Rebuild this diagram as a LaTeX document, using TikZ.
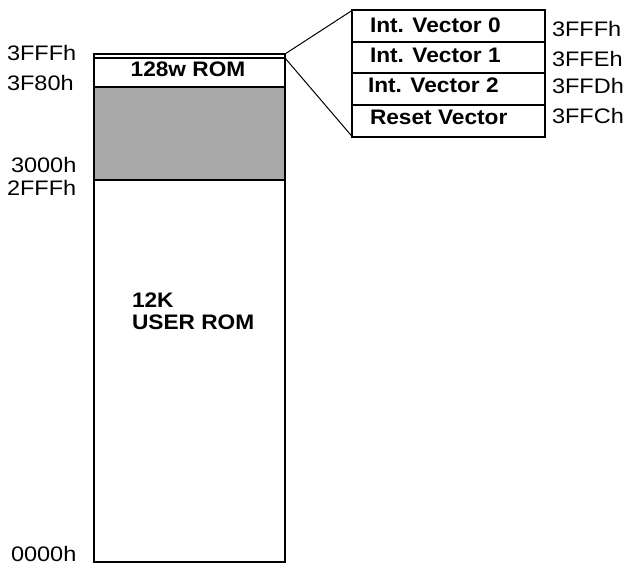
\documentclass[tikz,border=0pt]{standalone}
\usepackage{fontspec}
\setmainfont{Liberation Sans}[FakeStretch=1.08]
\newfontfamily\addrfont{Liberation Sans}[FakeStretch=1.12]
\definecolor{resgray}{RGB}{169,169,169}
\begin{document}
\begin{tikzpicture}[x=1pt,y=-1pt,
  every node/.style={inner sep=0pt,outer sep=0pt},
  seg/.style={draw,line width=2pt,rectangle,minimum width=191pt},
  vrow/.style={draw,line width=2pt,rectangle,minimum width=192.4pt,minimum height=31.6pt},
  addr/.style={anchor=base west,font=\addrfont\fontsize{21}{24}\selectfont},
  lbl/.style={anchor=base west,font=\fontsize{21}{24}\selectfont\bfseries},
  zoomline/.style={line width=1pt}]
\useasboundingbox (0,0) rectangle (626,564);
% main memory column
\node[seg,fill=resgray,minimum height=93pt] (res) at (189.5,133.5) {};
\node[seg,minimum height=382pt] (user) at (189.5,371) {};
\node[seg,minimum height=29pt] (rom) at (189.5,72.5) {};
\node[rectangle,minimum width=191pt,minimum height=4pt] (vec) at (189.5,56) {};
\draw[line width=1pt] (vec.south west) -- (vec.south east);
\draw[line width=2pt] (vec.south west) -- (vec.north west) -- (vec.north east) -- (vec.south east);
\node[lbl,anchor=base] (romtxt) at (188,77) {128w ROM};
\node[lbl] (usr1) at (132,307) {12K};
\node[lbl] (usr2) at (132,329) {USER ROM};
% left addresses
\node[addr] (a1) at (7,61) {3FFFh};
\node[addr] (a2) at (7,91) {3F80h};
\node[addr] (a3) at (11,173) {3000h};
\node[addr] (a4) at (7,196) {2FFFh};
\node[addr] (a5) at (11,561) {0000h};
% vector table
\node[vrow] (v0) at (448.5,26.1) {};
\node[vrow] (v1) at (448.5,57.7) {};
\node[vrow] (v2) at (448.5,89.3) {};
\node[vrow] (v3) at (448.5,120.9) {};
\node[lbl] (t0) at (370,33) {Int. Vector 0};
\node[lbl] (t1) at (370,63) {Int. Vector 1};
\node[lbl] (t2) at (368,93) {Int. Vector 2};
\node[lbl] (t3) at (370,125) {Reset Vector};
\node[addr] (r0) at (552,37) {3FFFh};
\node[addr] (r1) at (552,67) {3FFEh};
\node[addr] (r2) at (552,94) {3FFDh};
\node[addr] (r3) at (552,124) {3FFCh};
% zoom lines
\draw[zoomline] (vec.north east) -- (v0.north west);
\draw[zoomline] (vec.south east) -- (v3.south west);
\end{tikzpicture}
\end{document}
